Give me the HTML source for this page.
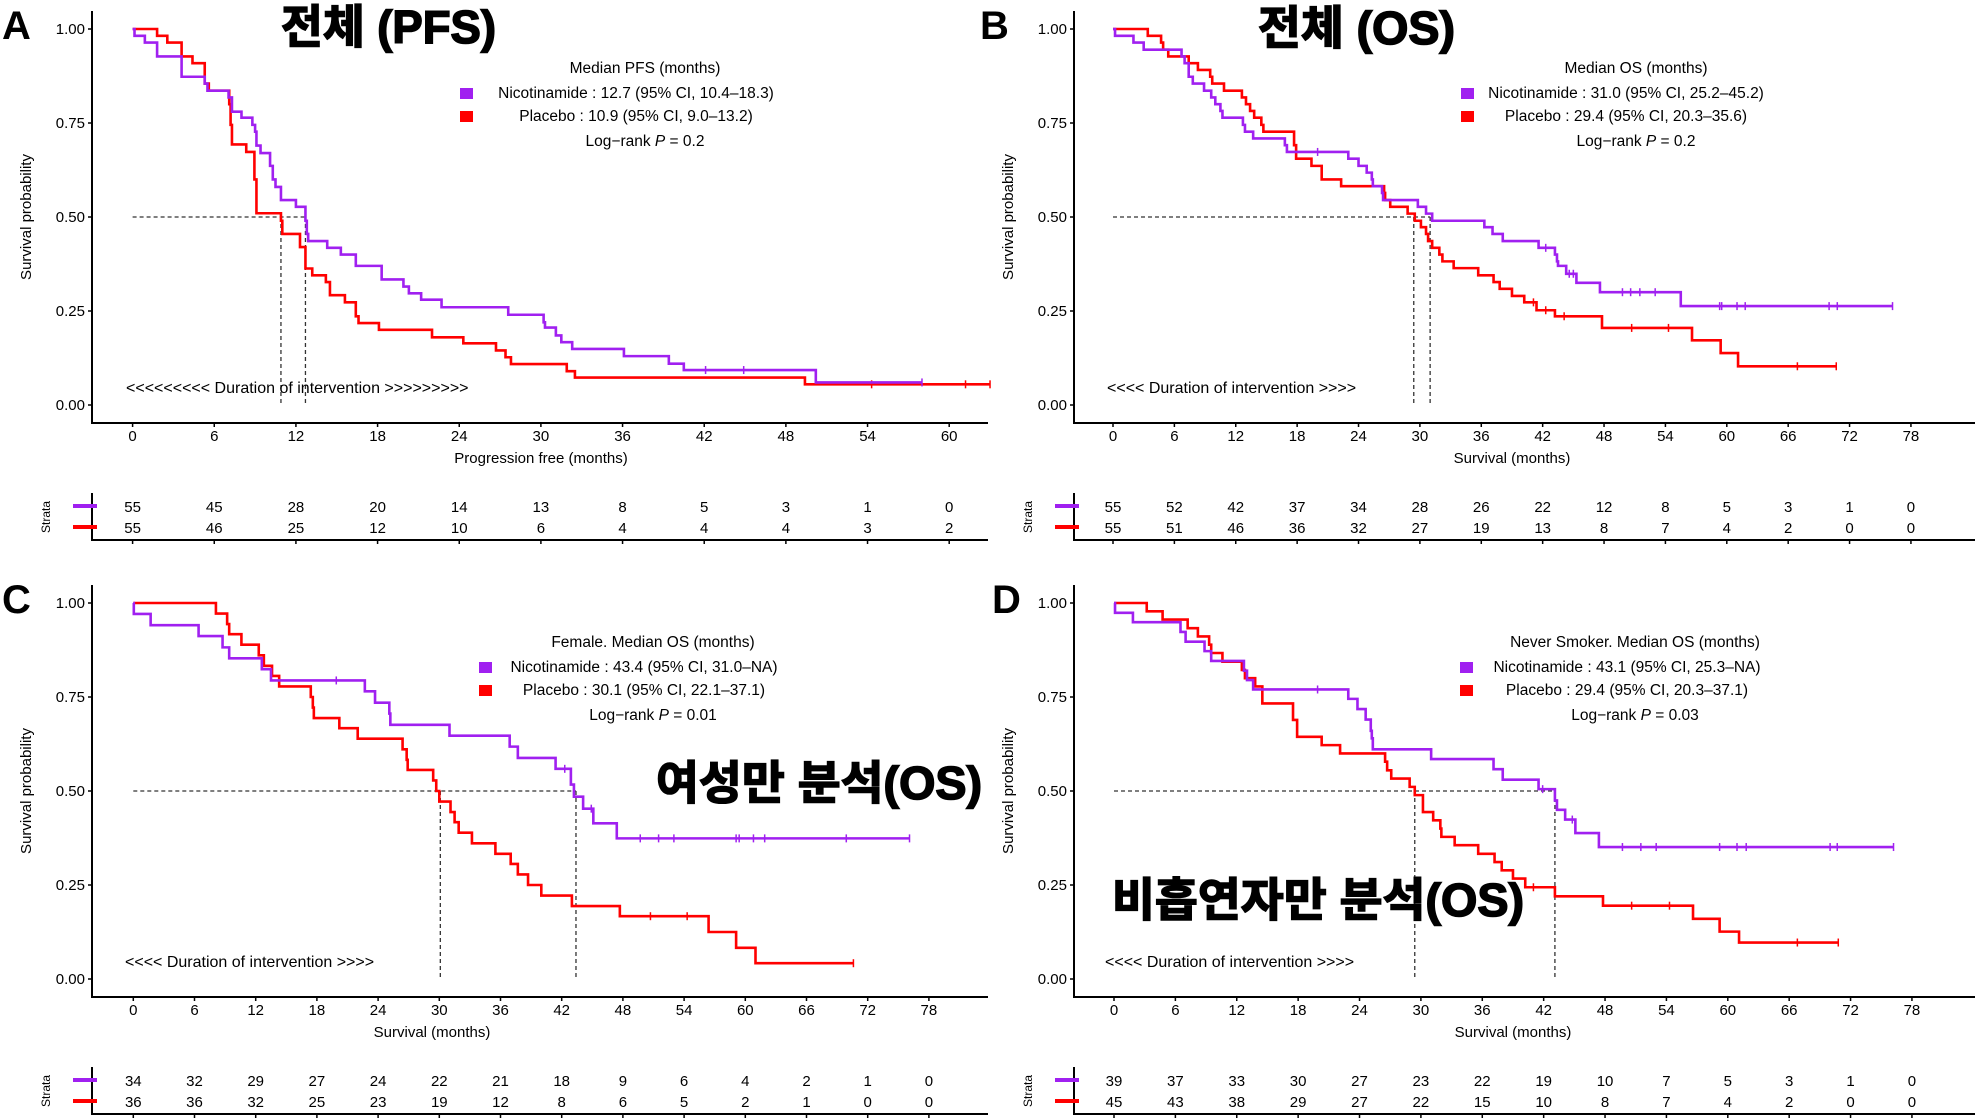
<!DOCTYPE html>
<html><head><meta charset="utf-8"><style>
html,body{margin:0;padding:0;background:#fff;}
svg{display:block;font-family:"Liberation Sans","Noto Sans CJK KR",sans-serif;}
</style></head><body>
<svg id="chart" width="1975" height="1119" viewBox="0 0 1975 1119" xmlns="http://www.w3.org/2000/svg">
<rect width="1975" height="1119" fill="#fff"/>
</svg>
<script>
// ---- Panel A (PFS) ----
const aNicT=[0.14,0.9,1.8,3.6,5.3,5.5,7.05,7.3,8.0,8.8,9.0,9.1,9.4,10.1,10.3,10.5,10.9,12.0,12.7,12.8,12.9,14.3,15.3,16.4,18.3,19.9,20.3,21.2,22.7,27.6,30.2,30.3,31.1,31.5,32.3,36.1,39.4,40.5,50.2];
const aNicS=[0.982,0.964,0.927,0.873,0.855,0.836,0.818,0.78,0.764,0.745,0.727,0.69,0.67,0.636,0.6,0.58,0.545,0.527,0.49,0.455,0.436,0.418,0.4,0.37,0.334,0.315,0.297,0.28,0.26,0.24,0.22,0.206,0.185,0.167,0.149,0.13,0.11,0.093,0.06];
const aNicCens=[42.1,44.9,58.0];
const aPlaT=[1.8,2.55,3.6,4.4,5.3,5.6,7.1,7.2,7.3,8.35,8.95,9.1,10.9,11.0,12.3,12.7,13.2,14.2,14.5,15.6,16.4,16.6,18.1,22.0,24.3,26.7,27.4,27.8,31.9,32.5,49.4];
const aPlaS=[0.982,0.964,0.927,0.909,0.855,0.836,0.8,0.745,0.693,0.673,0.6,0.51,0.49,0.455,0.42,0.363,0.345,0.327,0.292,0.273,0.236,0.218,0.2,0.18,0.164,0.145,0.127,0.109,0.09,0.073,0.055];
const aPlaCens=[54.3,61.2,63.0];
const aMedians=[12.7,10.9];
const aRiskNic=[55,45,28,20,14,13,8,5,3,1,0];
const aRiskPla=[55,46,25,12,10,6,4,4,4,3,2];
// ---- Panel B (OS) ----
const bNicT=[0.2,2.0,3.0,6.7,7.0,7.4,7.8,8.9,9.6,10.0,10.5,10.7,12.7,12.9,13.7,16.8,17.0,23.0,24.0,24.8,25.3,25.4,26.3,26.4,29.8,30.6,31.2,36.3,37.1,38.1,41.6,43.2,43.4,43.5,44.3,45.3,47.6,55.5];
const bNicS=[0.982,0.964,0.945,0.927,0.909,0.873,0.855,0.836,0.818,0.8,0.782,0.764,0.745,0.727,0.709,0.691,0.673,0.655,0.636,0.618,0.6,0.582,0.564,0.545,0.527,0.509,0.49,0.473,0.455,0.436,0.418,0.4,0.382,0.37,0.349,0.325,0.3,0.263];
const bNicCens=[20.0,42.3,44.6,45.0,49.8,50.6,51.5,53.0,59.3,59.5,61.0,61.8,70.0,70.8,76.2];
const bPlaT=[3.4,4.7,4.9,5.4,7.4,8.3,9.5,9.7,10.85,12.6,13.0,13.4,13.8,14.5,14.7,17.7,17.9,19.4,20.4,22.3,26.5,26.6,27.1,28.8,29.5,30.1,30.6,30.8,31.2,31.9,32.2,33.3,35.7,37.2,37.8,39.0,40.2,41.4,43.2,47.8,56.6,59.4,61.1];
const bPlaS=[0.982,0.964,0.945,0.927,0.909,0.891,0.873,0.855,0.836,0.818,0.8,0.782,0.764,0.745,0.727,0.691,0.655,0.636,0.6,0.582,0.564,0.545,0.527,0.509,0.49,0.473,0.455,0.436,0.418,0.4,0.382,0.364,0.345,0.327,0.309,0.29,0.273,0.252,0.236,0.205,0.172,0.138,0.103];
const bPlaCens=[41.1,42.3,44.1,50.7,54.3,66.9,70.7];
const bMedians=[31.0,29.4];
const bRiskNic=[55,52,42,37,34,28,26,22,12,8,5,3,1,0];
const bRiskPla=[55,51,46,36,32,27,19,13,8,7,4,2,0,0];
// ---- Panel C (Female OS) ----
const cNicT=[0.05,1.7,6.4,8.75,9.4,12.6,13.5,22.7,23.7,25.1,25.2,31.0,36.9,37.7,41.4,42.9,43.2,44.1,45.1,47.4];
const cNicS=[0.971,0.941,0.912,0.882,0.853,0.824,0.794,0.765,0.735,0.706,0.676,0.647,0.618,0.588,0.559,0.517,0.485,0.453,0.414,0.374];
const cNicCens=[19.9,42.3,44.9,49.7,51.5,53.0,59.1,59.4,60.8,61.9,69.9,76.1];
const cPlaT=[8.1,9.2,9.4,10.6,12.3,12.8,13.6,14.3,17.4,17.6,17.7,20.2,22.0,26.4,26.8,26.9,29.4,29.7,30.0,31.1,31.5,31.9,33.2,35.5,37.0,37.7,38.7,40.0,43.0,47.7,56.4,59.1,61.0];
const cPlaS=[0.972,0.944,0.917,0.889,0.861,0.833,0.806,0.778,0.75,0.722,0.694,0.667,0.639,0.611,0.583,0.556,0.528,0.5,0.472,0.444,0.417,0.389,0.361,0.333,0.306,0.278,0.25,0.222,0.194,0.167,0.125,0.083,0.042];
const cPlaCens=[50.7,54.3,70.6];
const cMedians=[43.4,30.1];
const cRiskNic=[34,32,29,27,24,22,21,18,9,6,4,2,1,0];
const cRiskPla=[36,36,32,25,23,19,12,8,6,5,2,1,0,0];
// ---- Panel D (Never smoker OS) ----
const dNicT=[0.1,1.85,6.5,7.0,8.85,9.5,12.7,13.0,13.6,22.9,23.8,24.6,25.1,25.2,25.3,31.0,37.1,38.0,41.5,43.1,43.3,44.1,45.1,47.4];
const dNicS=[0.974,0.949,0.923,0.897,0.872,0.846,0.82,0.795,0.77,0.745,0.718,0.69,0.66,0.64,0.611,0.585,0.558,0.53,0.505,0.475,0.45,0.424,0.388,0.351];
const dNicCens=[19.9,41.9,44.8,49.7,51.5,53.0,59.2,60.9,61.8,70.0,70.7,76.2];
const dPlaT=[3.2,4.75,7.2,8.2,9.3,9.5,10.6,12.5,12.8,13.8,14.5,17.5,17.9,20.3,22.1,26.5,26.7,27.1,28.9,29.4,30.2,31.2,31.9,32.0,33.3,35.6,37.2,37.9,39.0,40.2,43.1,47.8,56.6,59.2,61.1];
const dPlaS=[0.978,0.956,0.933,0.911,0.889,0.867,0.844,0.822,0.8,0.778,0.733,0.689,0.644,0.622,0.6,0.578,0.555,0.533,0.511,0.489,0.444,0.422,0.4,0.378,0.356,0.333,0.311,0.289,0.267,0.244,0.22,0.195,0.16,0.126,0.097];
const dPlaCens=[41.0,50.6,54.3,66.8,70.8];
const dMedians=[43.1,29.4];
const dRiskNic=[39,37,33,30,27,23,22,19,10,7,5,3,1,0];
const dRiskPla=[45,43,38,29,27,22,15,10,8,7,4,2,0,0];

const yTicks=[0,0.25,0.5,0.75,1];
const PURPLE="#a020f0", RED="#ff0000";
const NS="http://www.w3.org/2000/svg";
const svg=document.getElementById('chart');

function mk(tag,attrs,parent,text){
  const e=document.createElementNS(NS,tag);
  for(const k in attrs) e.setAttribute(k,attrs[k]);
  if(text!==undefined) e.textContent=text;
  (parent||svg).appendChild(e);
  return e;
}

function panel(cfg){
  const g=mk('g',{});
  
  
  const yo=cfg.yo;
  const X=m=>cfg.x0+m*cfg.ppm;
  const Y=s=>yo+405-s*376;
  const ax=cfg.axisX, xAxY=yo+423;
  const yl=mk('line',{x1:ax,y1:yo+11,x2:ax,y2:xAxY,stroke:'#000','stroke-width':2},g);
   
  const xl=mk('line',{x1:ax-1,y1:xAxY,x2:cfg.end,y2:xAxY,stroke:'#000','stroke-width':2},g);
   
  yTicks.forEach(v=>{
    mk('line',{x1:ax-4,y1:Y(v),x2:ax,y2:Y(v),stroke:'#000','stroke-width':1.5},g);
    const t=mk('text',{x:ax-7,y:Y(v)+5,'text-anchor':'end','font-size':15},g,v.toFixed(2));
     
  });
  for(let m=0;m<=cfg.tmax;m+=6){
    mk('line',{x1:X(m),y1:xAxY,x2:X(m),y2:xAxY+4,stroke:'#000','stroke-width':1.5},g);
    const t=mk('text',{x:X(m),y:xAxY+18,'text-anchor':'middle','font-size':15},g,String(m));
     
  }
  const xt=mk('text',{x:cfg.xTitleX,y:xAxY+40,'text-anchor':'middle','font-size':15},g,cfg.xTitle);
   
  const yt=mk('text',{x:0,y:0,'text-anchor':'middle','font-size':15,transform:`translate(${ax-61},${yo+217}) rotate(-90)`},g,'Survival probability');
   
  const mmax=Math.max(...cfg.medians);
  mk('line',{x1:X(0),y1:Y(0.5),x2:X(mmax),y2:Y(0.5),stroke:'#333','stroke-width':1.3,'stroke-dasharray':'4,3'},g);
  cfg.medians.forEach(m=>{
    const l=mk('line',{x1:X(m),y1:Y(0.5),x2:X(m),y2:Y(0),stroke:'#333','stroke-width':1.3,'stroke-dasharray':'4,3'},g);
     
  });
  const dt=mk('text',{x:cfg.durX,y:yo+393,'font-size':16},g,cfg.durText);
   
  function curve(T,S,cens,color,nm){
    const endT=Math.max(cens[cens.length-1],T[T.length-1]);
    let d=`M${X(0)},${Y(1)}`;
    for(let i=0;i<T.length;i++){ d+=`H${X(T[i])}V${Y(S[i])}`; }
    d+=`H${X(endT)}`;
    const p=mk('path',{d:d,fill:'none',stroke:color,'stroke-width':2.6},g);
     
    cens.forEach(c=>{
      let s=1; for(let i=0;i<T.length;i++){ if(T[i]<=c) s=S[i]; }
      const cm=mk('line',{x1:X(c),y1:Y(s)-4,x2:X(c),y2:Y(s)+4,stroke:color,'stroke-width':1.5},g);
       
    });
  }
  curve(cfg.pT,cfg.pS,cfg.pC,RED,'placebo');
  curve(cfg.nT,cfg.nS,cfg.nC,PURPLE,'nicotinamide');
  const lg=mk('g',{},g);
   
  mk('text',{x:cfg.lgTitleX,y:yo+73,'text-anchor':'middle','font-size':15.5},lg,cfg.lgTitle);
  const sq1=mk('rect',{x:cfg.sqX,y:yo+88,width:13,height:11,fill:PURPLE},lg);
   
  mk('text',{x:cfg.lgRowX,y:yo+98,'text-anchor':'middle','font-size':15.5},lg,cfg.lgNic);
  const sq2=mk('rect',{x:cfg.sqX,y:yo+111,width:13,height:11,fill:RED},lg);
   
  mk('text',{x:cfg.lgRowX,y:yo+121,'text-anchor':'middle','font-size':15.5},lg,cfg.lgPla);
  const lr=mk('text',{x:cfg.lgTitleX,y:yo+146,'text-anchor':'middle','font-size':15.5},lg);
  mk('tspan',{},lr,'Log\u2212rank ');
  mk('tspan',{'font-style':'italic'},lr,'P');
  mk('tspan',{},lr,' = '+cfg.p);
  const tb=mk('g',{},g);
   
  mk('line',{x1:ax,y1:yo+493,x2:ax,y2:yo+541,stroke:'#000','stroke-width':2},tb);
  mk('line',{x1:ax-1,y1:yo+540,x2:cfg.end,y2:yo+540,stroke:'#000','stroke-width':2},tb);
  mk('line',{x1:ax-19,y1:yo+506,x2:ax+5,y2:yo+506,stroke:PURPLE,'stroke-width':4},tb);
  mk('line',{x1:ax-19,y1:yo+527,x2:ax+5,y2:yo+527,stroke:RED,'stroke-width':4},tb);
  mk('text',{x:0,y:0,'text-anchor':'middle','font-size':12,transform:`translate(${ax-42},${yo+517}) rotate(-90)`},tb,'Strata');
  cfg.rN.forEach((v,i)=>{
    const m=i*6;
    mk('line',{x1:X(m),y1:yo+540,x2:X(m),y2:yo+544,stroke:'#000','stroke-width':1.5},tb);
    const t1=mk('text',{x:X(m),y:yo+512,'text-anchor':'middle','font-size':15},tb,String(v));
     
    const t2=mk('text',{x:X(m),y:yo+533,'text-anchor':'middle','font-size':15},tb,String(cfg.rP[i]));
     
  });
  const pl=mk('text',{x:cfg.letterX,y:yo+39,'font-size':40,'font-weight':'bold'},g,cfg.letter);
   
}

panel({name:'panel-a-pfs',letter:'A',letterX:2,yo:0,axisX:92,x0:132.6,ppm:13.61,tmax:60,end:988,
  xTitle:'Progression free (months)',xTitleX:541,durX:126,
  durText:'<<<<<<<<< Duration of intervention >>>>>>>>>',
  nT:aNicT,nS:aNicS,nC:aNicCens,pT:aPlaT,pS:aPlaS,pC:aPlaCens,medians:aMedians,rN:aRiskNic,rP:aRiskPla,
  lgTitle:'Median PFS (months)',lgTitleX:645,sqX:460,lgRowX:636,
  lgNic:'Nicotinamide : 12.7 (95% CI, 10.4\u201318.3)',lgPla:'Placebo : 10.9 (95% CI, 9.0\u201313.2)',p:'0.2'});
panel({name:'panel-b-os',letter:'B',letterX:980,yo:0,axisX:1074,x0:1113,ppm:10.23,tmax:78,end:1975,
  xTitle:'Survival (months)',xTitleX:1512,durX:1107,
  durText:'<<<< Duration of intervention >>>>',
  nT:bNicT,nS:bNicS,nC:bNicCens,pT:bPlaT,pS:bPlaS,pC:bPlaCens,medians:bMedians,rN:bRiskNic,rP:bRiskPla,
  lgTitle:'Median OS (months)',lgTitleX:1636,sqX:1461,lgRowX:1626,
  lgNic:'Nicotinamide : 31.0 (95% CI, 25.2\u201345.2)',lgPla:'Placebo : 29.4 (95% CI, 20.3\u201335.6)',p:'0.2'});
panel({name:'panel-c-female-os',letter:'C',letterX:2,yo:574,axisX:92,x0:133.3,ppm:10.2,tmax:78,end:988,
  xTitle:'Survival (months)',xTitleX:432,durX:125,
  durText:'<<<< Duration of intervention >>>>',
  nT:cNicT,nS:cNicS,nC:cNicCens,pT:cPlaT,pS:cPlaS,pC:cPlaCens,medians:cMedians,rN:cRiskNic,rP:cRiskPla,
  lgTitle:'Female.  Median OS (months)',lgTitleX:653,sqX:479,lgRowX:644,
  lgNic:'Nicotinamide : 43.4 (95% CI, 31.0\u2013NA)',lgPla:'Placebo : 30.1 (95% CI, 22.1\u201337.1)',p:'0.01'});
panel({name:'panel-d-never-smoker-os',letter:'D',letterX:992,yo:574,axisX:1074,x0:1114,ppm:10.23,tmax:78,end:1975,
  xTitle:'Survival (months)',xTitleX:1513,durX:1105,
  durText:'<<<< Duration of intervention >>>>',
  nT:dNicT,nS:dNicS,nC:dNicCens,pT:dPlaT,pS:dPlaS,pC:dPlaCens,medians:dMedians,rN:dRiskNic,rP:dRiskPla,
  lgTitle:'Never Smoker. Median OS (months)',lgTitleX:1635,sqX:1460,lgRowX:1627,
  lgNic:'Nicotinamide : 43.1 (95% CI, 25.3\u2013NA)',lgPla:'Placebo : 29.4 (95% CI, 20.3\u201337.1)',p:'0.03'});

function bigTitle(txt,x,y,w,nm){
  const t=mk('text',{x:x,y:y,'font-size':46,'font-weight':'bold',textLength:w,lengthAdjust:'spacingAndGlyphs',
    stroke:'#000','stroke-width':1.6,fill:'#000',style:'font-family:"Liberation Sans","Noto Sans CJK KR",sans-serif'},svg,txt);
  
  
}
bigTitle('전체 (PFS)',281,43,215,'title-overall-pfs');
bigTitle('전체 (OS)',1258,44,197,'title-overall-os');
bigTitle('여성만 분석(OS)',656,799,326,'title-female-os');
bigTitle('비흡연자만 분석(OS)',1112,916,412,'title-never-smoker-os');
</script>
</body></html>
